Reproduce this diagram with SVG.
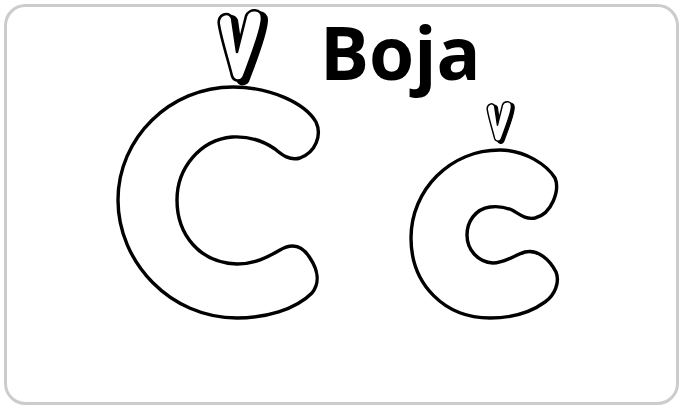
<svg xmlns="http://www.w3.org/2000/svg" width="680" height="409" viewBox="0 0 680 409">
<style>
.letter{fill:#fff;stroke:#000;stroke-width:3.4;stroke-linejoin:round}
.vw{fill:#fff;stroke:#000;stroke-width:2.6;stroke-linejoin:round}
.vs{fill:#000;stroke:#000;stroke-width:2;stroke-linejoin:round}
.small .vw{stroke-width:4}
.title{font-family:"Open Sans","Liberation Sans",sans-serif;font-weight:700;font-size:73px;fill:#000}
</style>
<defs>
<g id="caron">
<path class="vs" d="M 224,27 C 222,17 233,12 237,20 L 242,55 L 251,18 C 254,10 267,10 267,20 C 267,33 255,63 249,79 C 247,86 239,86 237,80 C 233,63 226,41 224,27 Z"/>
<path class="vw" d="M 219,25 C 217,15 228,10 232,18 L 237,52 L 246,16 C 249,8 262,8 262,18 C 262,30 250,60 244,76 C 242,82 234,82 232,76 C 228,60 221,38 219,25 Z"/>
</g>
</defs>
<rect x="5.5" y="5.5" width="672" height="398" rx="20" fill="#fff" stroke="#cccccc" stroke-width="3"/>
<g id="big-c">
<path class="letter" d="M 233,87 C 270,87 305,103 316,122 C 322,135 316,152 300,158 C 290,161 282,155 275,149 C 262,140 248,136 232,137 C 200,140 177,168 177,200 C 177,235 200,263 237,264 C 255,264 268,257 280,250 C 292,243 302,245 310,258 C 318,270 320,283 312,293 C 295,310 265,318 237,318 C 170,318 118,262 118,200 C 118,138 170,87 233,87 Z"/>
</g>
<g id="big-caron">
<use href="#caron"/>
</g>
<g id="small-c">
<path class="letter" d="M 500,150 C 525,150 547,165 555,178 C 560,190 552,214 535,218 C 525,220 518,213 512,210 C 505,207 497,206 490,207 C 475,209 467,222 467,235 C 467,250 478,262 493,263 C 505,263 515,255 525,252 C 538,249 550,260 556,272 C 560,282 555,295 545,302 C 530,313 512,318 490,318 C 445,318 411,285 411,238 C 411,190 450,150 500,150 Z"/>
</g>
<g id="small-caron" class="small">
<use href="#caron" transform="translate(498,142) scale(0.56) translate(-238,-82)"/>
</g>
<g id="title">
<text class="title" x="320" y="80">Boja</text>
</g>
</svg>
